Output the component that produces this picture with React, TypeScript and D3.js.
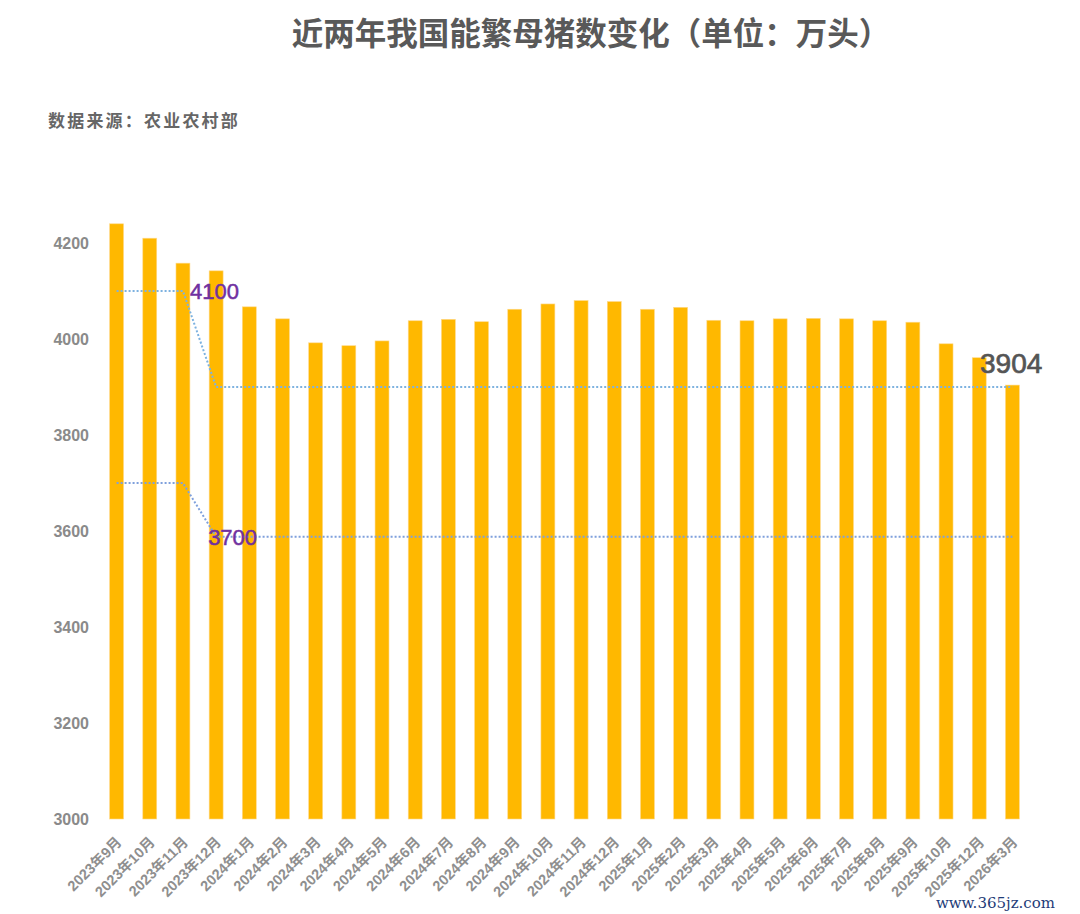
import { useEffect, useRef } from "react";
import * as d3 from "d3";

const width = 1080;
const height = 914;

const months = [
  "2023年9月", "2023年10月", "2023年11月", "2023年12月",
  "2024年1月", "2024年2月", "2024年3月", "2024年4月", "2024年5月", "2024年6月",
  "2024年7月", "2024年8月", "2024年9月", "2024年10月", "2024年11月", "2024年12月",
  "2025年1月", "2025年2月", "2025年3月", "2025年4月", "2025年5月", "2025年6月",
  "2025年7月", "2025年8月", "2025年9月", "2025年10月", "2025年12月", "2026年3月",
];
const sows = [
  4240, 4210, 4158, 4142,
  4067, 4042, 3992, 3986, 3996, 4038,
  4041, 4036, 4062, 4073, 4080, 4078,
  4062, 4066, 4039, 4038, 4042, 4043,
  4042, 4038, 4035, 3990, 3961, 3904,
];
const yTicks = [3000, 3200, 3400, 3600, 3800, 4000, 4200];

// dotted guide lines: [start month index, elbow index, drop index, end index], from value -> to value
const guideLabels = ["4100", "3700"];
const guideFrom = [4100, 3700];
const guideTo = [3900, 3588];
const guideIdx = [
  [0, 2, 3, 27],
  [0, 2, 3, 27],
];
const lastLabel = "3904";

const font = "'Liberation Sans', Arial, 'Noto Sans CJK SC', sans-serif";

export default function App() {
  const ref = useRef<HTMLDivElement | null>(null);

  useEffect(() => {
    if (!ref.current) return;
    d3.select(ref.current).selectAll("svg").remove();

    const svg = d3
      .select(ref.current)
      .append("svg")
      .attr("width", width)
      .attr("height", height)
      .style("display", "block")
      .style("background", "#fff");

    const x = d3
      .scaleBand<string>()
      .domain(months)
      .range([100, 1029])
      .paddingInner(0.58)
      .paddingOuter(0.29);
    const y = d3.scaleLinear([3000, 4200], [819, 243]);
    const cx = (i: number) => (x(months[i]) ?? 0) + x.bandwidth() / 2;

    // title
    svg
      .append("text")
      .attr("x", 591)
      .attr("y", 45)
      .attr("text-anchor", "middle")
      .attr("font-family", "'Noto Sans CJK SC', sans-serif")
      .attr("font-weight", "bold")
      .attr("font-size", 31.5)
      .attr("fill", "#595959")
      .text("近两年我国能繁母猪数变化（单位：万头）");

    svg
      .append("text")
      .attr("x", 48)
      .attr("y", 127)
      .attr("font-family", "'Noto Sans CJK SC', sans-serif")
      .attr("font-weight", "bold")
      .attr("font-size", 17)
      .attr("letter-spacing", 2.2)
      .attr("fill", "#666")
      .text("数据来源：农业农村部");

    // y axis labels (no line)
    const yAxis = d3
      .axisLeft(y)
      .tickValues(yTicks)
      .tickFormat(d3.format("d"))
      .tickSize(0)
      .tickPadding(0);
    const yG = svg.append("g").attr("transform", "translate(89,0)").call(yAxis);
    yG.select(".domain").remove();
    yG.selectAll("text")
      .attr("font-family", font)
      .attr("font-size", 16)
      .attr("font-weight", "bold")
      .attr("fill", "#8a8a8a");

    // bars
    svg
      .append("g")
      .selectAll("rect")
      .data(sows)
      .join("rect")
      .attr("x", (_, i) => x(months[i]) ?? 0)
      .attr("y", (d) => y(d))
      .attr("width", x.bandwidth())
      .attr("height", (d) => y(3000) - y(d))
      .attr("fill", "#FFB800")
      .attr("stroke", "#FFD98A")
      .attr("stroke-width", 0.6);

    // x labels
    const xAxis = d3.axisBottom(x).tickSize(0).tickPadding(0);
    const xG = svg.append("g").attr("transform", "translate(0,819)").call(xAxis);
    xG.select(".domain").remove();
    xG.selectAll("text")
      .attr("font-family", font)
      .attr("font-size", 14.5)
      .attr("font-weight", "bold")
      .attr("fill", "#8f8f8f")
      .attr("text-anchor", "end")
      .attr("dy", null)
      .attr("transform", "translate(6,24) rotate(-45)");

    // dotted guides
    guideLabels.forEach((label, k) => {
      const [a, b, c, e] = guideIdx[k];
      const pts: [number, number][] = [
        [cx(a), y(guideFrom[k])],
        [cx(b), y(guideFrom[k])],
        [cx(c), y(guideTo[k])],
        [cx(e), y(guideTo[k])],
      ];
      svg
        .append("path")
        .attr("d", d3.line()(pts))
        .attr("fill", "none")
        .attr("stroke", k === 0 ? "#7DB2E0" : "#7FA0DC")
        .attr("stroke-width", 2)
        .attr("stroke-dasharray", "2 2");
    });

    svg
      .append("text")
      .attr("x", cx(2) + 7)
      .attr("y", y(guideFrom[0]) + 8)
      .attr("font-family", font)
      .attr("font-size", 22)
      .attr("fill", "#7030A0")
      .attr("stroke", "#7030A0")
      .attr("stroke-width", 0.5)
      .text(guideLabels[0]);

    svg
      .append("text")
      .attr("x", cx(3) - 8)
      .attr("y", y(guideTo[1]) + 8)
      .attr("font-family", font)
      .attr("font-size", 22)
      .attr("fill", "#7030A0")
      .attr("stroke", "#7030A0")
      .attr("stroke-width", 0.5)
      .text(guideLabels[1]);

    svg
      .append("text")
      .attr("x", 980)
      .attr("y", y(sows[27]) - 12)
      .attr("font-family", font)
      .attr("font-size", 28)
      .attr("fill", "#555")
      .attr("stroke", "#555")
      .attr("stroke-width", 0.7)
      .text(lastLabel);

    // watermark
    svg
      .append("text")
      .attr("x", 1055)
      .attr("y", 908)
      .attr("text-anchor", "end")
      .attr("font-family", "'DejaVu Serif', serif")
      .attr("font-size", 15)
      .attr("fill", "#1F3C78")
      .text("www.365jz.com");
  }, []);

  return <div ref={ref} style={{ position: "absolute", left: 0, top: 0 }} />;
}
